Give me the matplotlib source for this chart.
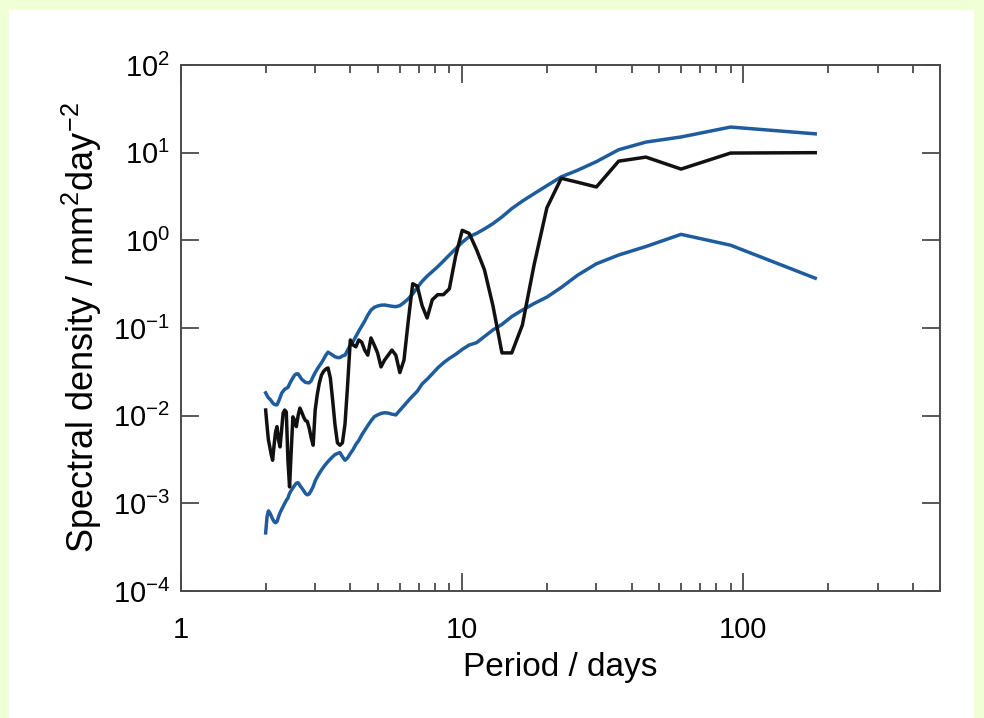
import numpy as np
import matplotlib
matplotlib.use("Agg")
import matplotlib.pyplot as plt
from matplotlib.patches import Rectangle
from matplotlib.ticker import LogLocator, NullLocator, NullFormatter, FixedLocator, FixedFormatter

# spectral estimates at the harmonics of a 180-day record (period = 180 / k)
record_days = 180
harmonic = np.arange(1, 91)
period = record_days / harmonic

# observed spectrum, k = 1 .. 90
spectrum = [
    10.0, 9.9, 6.5, 8.9, 8.0, 4.06, 4.6, 5.1, 2.35, 0.52,
    0.108, 0.052, 0.052, 0.18, 0.46, 0.78, 1.2, 1.3, 0.66, 0.28,
    0.24, 0.24, 0.21, 0.13, 0.18, 0.30, 0.32, 0.12, 0.043, 0.031,
    0.049, 0.056, 0.049, 0.043, 0.036, 0.052, 0.064, 0.077, 0.049, 0.056,
    0.069, 0.073, 0.061, 0.064, 0.073, 0.0225, 0.008, 0.0049, 0.0046, 0.0049,
    0.0078, 0.015, 0.027, 0.035, 0.034, 0.032, 0.029, 0.0235, 0.0173, 0.0116,
    0.0046, 0.0056, 0.0072, 0.0086, 0.0088, 0.0097, 0.011, 0.0122, 0.010, 0.0075,
    0.0088, 0.0097, 0.0040, 0.00154, 0.0031, 0.011, 0.0116, 0.0107, 0.0068, 0.0044,
    0.0053, 0.0075, 0.0065, 0.0046, 0.0031, 0.0036, 0.0044, 0.0053, 0.0077, 0.0116,
]

# upper confidence bound
upper = [
    16.4, 19.6, 15.1, 13.2, 10.8, 7.9, 6.3, 5.3, 4.2, 3.4,
    2.8, 2.3, 1.85, 1.55, 1.35, 1.20, 1.10, 0.95, 0.80, 0.68,
    0.58, 0.50, 0.44, 0.39, 0.34, 0.29, 0.245, 0.215, 0.195, 0.180,
    0.175, 0.177, 0.180, 0.183, 0.182, 0.178, 0.172, 0.16, 0.14, 0.12,
    0.105, 0.092, 0.080, 0.070, 0.064, 0.056, 0.049, 0.048, 0.046, 0.046,
    0.047, 0.049, 0.051, 0.053, 0.049, 0.044, 0.040, 0.037, 0.034, 0.031,
    0.028, 0.025, 0.0237, 0.0238, 0.024, 0.025, 0.026, 0.028, 0.030, 0.030,
    0.029, 0.027, 0.025, 0.023, 0.021, 0.0205, 0.020, 0.019, 0.018, 0.016,
    0.0145, 0.0133, 0.0133, 0.0135, 0.014, 0.0148, 0.0155, 0.016, 0.017, 0.0182,
]

# lower confidence bound
lower = [
    0.37, 0.88, 1.17, 0.85, 0.68, 0.54, 0.40, 0.29, 0.225, 0.19,
    0.16, 0.135, 0.11, 0.095, 0.080, 0.068, 0.064, 0.057, 0.050, 0.045,
    0.040, 0.035, 0.030, 0.026, 0.023, 0.019, 0.0168, 0.0148, 0.013, 0.0115,
    0.0102, 0.0104, 0.0107, 0.0108, 0.0106, 0.0102, 0.0097, 0.0087, 0.0077, 0.0068,
    0.0060, 0.0052, 0.0047, 0.0041, 0.0037, 0.0033, 0.0031, 0.0034, 0.0038, 0.0037,
    0.0036, 0.0034, 0.0032, 0.0030, 0.0028, 0.0026, 0.0024, 0.0022, 0.0020, 0.0018,
    0.00155, 0.0014, 0.00128, 0.00125, 0.0013, 0.0014, 0.0015, 0.0016, 0.00172, 0.0017,
    0.0016, 0.0015, 0.0014, 0.0013, 0.00115, 0.00108, 0.0010, 0.00092, 0.00085, 0.00078,
    0.0007, 0.00062, 0.0006, 0.00062, 0.00066, 0.00072, 0.00078, 0.00082, 0.0007, 0.00046,
]

plt.rcParams["font.family"] = ["Liberation Sans", "DejaVu Sans"]
plt.rcParams["mathtext.fontset"] = "custom"
plt.rcParams["mathtext.rm"] = "Liberation Sans"
plt.rcParams["mathtext.it"] = "Liberation Sans:italic"
plt.rcParams["mathtext.default"] = "regular"
plt.rcParams["axes.unicode_minus"] = False

BLUE = "#1f5c9e"
FRAME = "#4a4a4a"

fig = plt.figure(figsize=(9.84, 7.18), dpi=100, facecolor="#f1ffd6")
fig.patches.append(Rectangle((9 / 984, 0), 965 / 984, 708 / 718, transform=fig.transFigure,
                             facecolor="white", edgecolor="none", zorder=-10))
ax = fig.add_axes([181 / 984, 1 - 591 / 718, (940 - 181) / 984, (591 - 65) / 718])

ax.plot(period, upper, color=BLUE, lw=2.5, solid_joinstyle="round")
ax.plot(period, lower, color=BLUE, lw=2.5, solid_joinstyle="round")
ax.plot(period, spectrum, color="#111111", lw=2.5, solid_joinstyle="round")

ax.set_xscale("log")
ax.set_yscale("log")
ax.set_xlim(1, 500)
ax.set_ylim(1e-4, 1e2)

ax.xaxis.set_major_locator(FixedLocator([1, 10, 100]))
ax.xaxis.set_major_formatter(FixedFormatter(["1", "10", "100"]))
ax.xaxis.set_minor_locator(LogLocator(base=10, subs=range(2, 10), numticks=20))
ax.xaxis.set_minor_formatter(NullFormatter())
ax.yaxis.set_major_locator(LogLocator(base=10, numticks=10))
ax.yaxis.set_minor_locator(NullLocator())

for s in ax.spines.values():
    s.set_color(FRAME)
    s.set_linewidth(1.4)
ax.tick_params(which="both", direction="in", top=True, right=True, color=FRAME, width=1.3)
ax.tick_params(which="major", length=13, labelsize=21)
ax.tick_params(which="minor", length=6)
ax.tick_params(axis="x", which="major", pad=18)
ax.tick_params(axis="y", which="major", pad=8)

ax.set_xlabel("Period / days", fontsize=24, labelpad=6)
ax.set_ylabel("Spectral density / mm$^2$day$^{-2}$", fontsize=26, labelpad=6)

plt.savefig("out.png", dpi=100, facecolor=fig.get_facecolor())
